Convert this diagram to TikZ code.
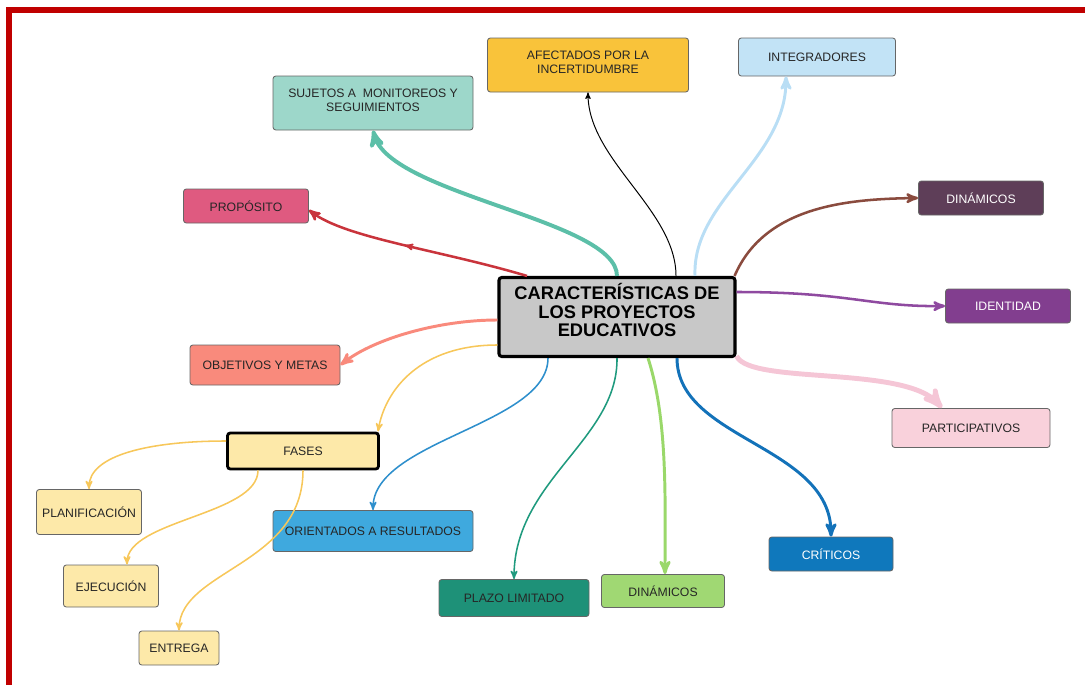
\documentclass[tikz,border=0pt]{standalone}
\usepackage{fontspec}
\setmainfont{Liberation Sans}
\usepackage{tikz}
\usetikzlibrary{arrows,
                arrows.meta,
                calc,
                positioning,
                decorations.markings,
                shapes}

\definecolor{marco}{HTML}{C00000}
\definecolor{gcentro}{HTML}{C8C8C8}
\definecolor{cafect}{HTML}{F9C33A}
\definecolor{cinteg}{HTML}{C2E3F6}
\definecolor{csujet}{HTML}{9DD7CA}
\definecolor{cprop}{HTML}{DF5A80}
\definecolor{cdina}{HTML}{5E3E58}
\definecolor{ciden}{HTML}{823E8F}
\definecolor{cobje}{HTML}{F98A7C}
\definecolor{cfase}{HTML}{FDE9A9}
\definecolor{corie}{HTML}{3FA9DE}
\definecolor{cplazo}{HTML}{1E9178}
\definecolor{cdinb}{HTML}{A0D873}
\definecolor{ccrit}{HTML}{0F78BC}
\definecolor{cpart}{HTML}{F9D1DB}
% colores de los conectores
\definecolor{lsujet}{HTML}{5CBFA8}
\definecolor{linteg}{HTML}{B9DEF5}
\definecolor{lprop}{HTML}{C9343C}
\definecolor{ldina}{HTML}{8A4B3E}
\definecolor{liden}{HTML}{8F4AA0}
\definecolor{lpart}{HTML}{F5C6D6}
\definecolor{lcrit}{HTML}{1372B9}
\definecolor{ldinb}{HTML}{9AD86A}
\definecolor{lplazo}{HTML}{1F9A7E}
\definecolor{lorie}{HTML}{2E8FCC}
\definecolor{lfase}{HTML}{F7C75A}
\definecolor{texto}{HTML}{262626}

\tikzset{
	%Define standard arrow tip
	>=stealth',
	%Define style for boxes
	caja/.style={
	       rectangle,
	       rounded corners=2pt,
	       draw=black!60, line width=0.6pt,
	       inner sep=1pt,
	       align=center,
	       text=texto,
	       font=\fontsize{8.7}{10.2}\selectfont},
	tam/.style 2 args={
	       minimum width=#1*0.025cm,
	       minimum height=#2*0.025cm},
	cajac/.style={
	       rectangle,
	       rounded corners=2pt,
	       draw=black, line width=2.2pt,
	       fill=gcentro,
	       align=center,
	       text depth=10pt,
	       font=\bfseries\fontsize{13}{13}\selectfont},
	% Define arrow style
	pil/.style={
	       ->,
	       line width=#1},
	pil/.default=1pt
}

\begin{document}
\begin{tikzpicture}[x=0.025cm,y=-0.025cm]
		\useasboundingbox (0,0) rectangle (1085,684);
		\draw[marco, line width=3.6pt] (9,720) -- (9,10) -- (1120,10);
		% nodo central
		\node[cajac, tam={236}{79}] (centro) at (617,317) {CARACTERÍSTICAS DE\\LOS PROYECTOS\\EDUCATIVOS};
		% ramas
		\node[caja, fill=cafect, tam={201}{54}, text depth=4pt] (afect) at (588,65) {AFECTADOS POR LA\\INCERTIDUMBRE};
		\node[caja, fill=cinteg, tam={157}{38}] (integ) at (817,57) {INTEGRADORES};
		\node[caja, fill=csujet, tam={200}{54}, text depth=4pt] (sujet) at (373,103) {SUJETOS A \ MONITOREOS Y\\SEGUIMIENTOS};
		\node[caja, fill=cprop, tam={125}{34}] (prop) at (246,206) {PROPÓSITO};
		\node[caja, fill=cdina, text=white, tam={125}{34}] (dina) at (981,198) {DINÁMICOS};
		\node[caja, fill=ciden, text=white, tam={125}{34}] (iden) at (1008,306) {IDENTIDAD};
		\node[caja, fill=cobje, tam={150}{40}] (obje) at (265,365) {OBJETIVOS Y METAS};
		\node[caja, fill=cfase, draw=black, line width=2pt, tam={151}{36}] (fases) at (303,451) {FASES};
		\node[caja, fill=cfase, tam={105}{45}] (plan) at (89,512) {PLANIFICACIÓN};
		\node[caja, fill=cfase, tam={95}{42}] (ejec) at (111,586) {EJECUCIÓN};
		\node[caja, fill=cfase, tam={80}{34}] (entr) at (179,648) {ENTREGA};
		\node[caja, fill=corie, tam={200}{41}] (orie) at (373,531) {ORIENTADOS A RESULTADOS};
		\node[caja, fill=cplazo, tam={150}{37}] (plazo) at (514,598) {PLAZO LIMITADO};
		\node[caja, fill=cdinb, tam={123}{33}] (dinb) at (663,591) {DINÁMICOS};
		\node[caja, fill=ccrit, text=white, tam={124}{34}] (crit) at (831,554) {CRÍTICOS};
		\node[caja, fill=cpart, tam={158}{39}] (part) at (971,428) {PARTICIPATIVOS};
		% conectores
		\draw[pil=0.7pt, black] ($(centro.north)+(59,0)$) .. controls (676,210) and (588,160) .. (afect.south);
		\draw[pil=2.1pt, linteg] ($(centro.north)+(78,0)$) .. controls (692,200) and (786,160) .. ($(integ.south)+(-31,0)$);
		\draw[pil=2.8pt, lsujet] (centro.north) .. controls (617,220) and (390,195) .. (sujet.south);
		\draw[pil=1.8pt, lprop, postaction={decorate},
		      decoration={markings, mark=at position 0.55 with {\arrow[scale=0.7]{stealth'}}}]
		      ($(centro.north)+(-90,0)$) .. controls (440,250) and (345,238) .. ($(prop.east)+(0,4)$);
		\draw[pil=1.8pt, ldina] ($(centro.north east)+(-2,0)$) .. controls (765,205) and (850,199) .. (dina.west);
		\draw[pil=1.8pt, liden] ($(centro.east)+(0,-25)$) .. controls (850,292) and (870,307) .. (iden.west);
		\draw[pil=3.5pt, lpart] ($(centro.south east)+(0,-2)$) .. controls (750,385) and (905,365) .. ($(part.north)+(-29,0)$);
		\draw[pil=2.1pt, lcrit] ($(centro.south)+(60,0)$) .. controls (677,440) and (831,445) .. (crit.north);
		\draw[pil=2.1pt, ldinb] ($(centro.south)+(31,0)$) .. controls (668,420) and (665,500) .. ($(dinb.north)+(2,0)$);
		\draw[pil=1.1pt, lplazo] (centro.south) .. controls (618,440) and (514,480) .. (plazo.north);
		\draw[pil=1.1pt, lorie] ($(centro.south)+(-69,0)$) .. controls (548,425) and (373,440) .. (orie.north);
		\draw[pil=2.1pt, cobje] ($(centro.west)+(0,3)$) .. controls (440,320) and (375,338) .. (obje.east);
		\draw[pil=1.1pt, lfase] ($(centro.west)+(0,28)$) .. controls (420,345) and (385,390) .. ($(fases.north)+(75,0)$);
		\draw[pil=1.1pt, lfase] ($(fases.west)+(0,-10)$) .. controls (150,441) and (89,455) .. (plan.north);
		\draw[pil=1.1pt, lfase] ($(fases.south)+(-45,0)$) .. controls (258,515) and (127,520) .. ($(ejec.north)+(16,0)$);
		\draw[pil=1.1pt, lfase] (fases.south) .. controls (303,565) and (180,570) .. (entr.north);
\end{tikzpicture}
\end{document}
